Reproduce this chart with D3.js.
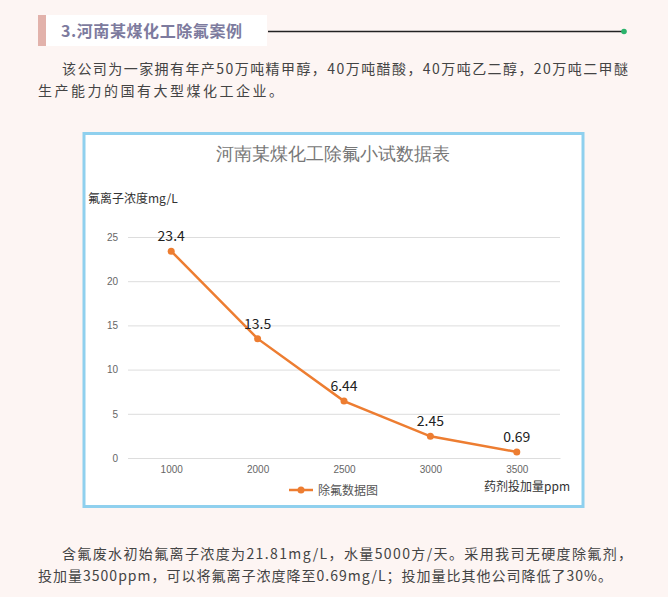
<!DOCTYPE html><html><head><meta charset="utf-8"><script src="https://cdn.jsdelivr.net/npm/d3@7"></script>
<style>body{margin:0;background:#fdf5f3;font-family:"Noto Sans CJK SC",sans-serif;}</style></head><body><svg id="c" width="668" height="597"></svg>
<script>
const categories=["1000","2000","2500","3000","3500"];
const values=[23.4,13.5,6.44,2.45,0.69];
const yTicks=[0,5,10,15,20,25];
const svg=d3.select("#c");
const F='"Noto Sans CJK SC",sans-serif';
svg.append("rect").attr("x",38).attr("y",15).attr("width",8).attr("height",31).attr("fill","#e2b2ab");
svg.append("rect").attr("x",46).attr("y",15).attr("width",221).attr("height",31).attr("fill","#fff");
svg.append("text").attr("x",61).attr("y",37).attr("font-size",16).attr("font-weight","bold").attr("fill","#7d7b9e").attr("font-family",F).attr("textLength",181).text("3.河南某煤化工除氟案例");
svg.append("line").attr("x1",268).attr("x2",623).attr("y1",31.5).attr("y2",31.5).attr("stroke","#222").attr("stroke-width",1.3);
svg.append("circle").attr("cx",624).attr("cy",31.5).attr("r",2.8).attr("fill","#2bb36b");
const para=[[62,74,"该公司为一家拥有年产50万吨精甲醇，40万吨醋酸，40万吨乙二醇，20万吨二甲醚",566],[38,96,"生产能力的国有大型煤化工企业。",245],[62,559,"含氟废水初始氟离子浓度为21.81mg/L，水量5000方/天。采用我司无硬度除氟剂，",570],[38,581,"投加量3500ppm，可以将氟离子浓度降至0.69mg/L；投加量比其他公司降低了30%。",574]];
para.forEach(p=>svg.append("text").attr("x",p[0]).attr("y",p[1]).attr("font-size",14).attr("fill","#444").attr("font-family",F).attr("textLength",p[3]).text(p[2]));
svg.append("rect").attr("x",84).attr("y",133.5).attr("width",499).attr("height",373).attr("fill","#fff").attr("stroke","#8fd0ee").attr("stroke-width",3);
svg.append("text").attr("x",333).attr("y",160).attr("text-anchor","middle").attr("font-size",18).attr("fill","#777").attr("font-family","serif").text("河南某煤化工除氟小试数据表");
const x=d3.scalePoint().domain(categories).range([128,560]).padding(0.5);
const y=d3.scaleLinear().domain([0,25]).range([458,237]);
const ya=svg.append("g").attr("transform","translate(128,0)").call(d3.axisLeft(y).tickValues(yTicks).tickSize(-432).tickPadding(10));
ya.select(".domain").remove();
ya.selectAll("line").attr("stroke","#ddd");
ya.selectAll("text").attr("fill","#666").attr("font-size",10);
const xa=svg.append("g").attr("transform","translate(0,458)").call(d3.axisBottom(x).tickSize(0).tickPadding(8));
xa.select(".domain").attr("stroke","#ddd");
xa.selectAll("text").attr("fill","#666").attr("font-size",10);
svg.append("text").attr("x",88).attr("y",203).attr("font-size",12).attr("fill","#333").attr("font-family",F).text("氟离子浓度mg/L");
svg.append("text").attr("x",484).attr("y",491).attr("font-size",12).attr("fill","#333").attr("font-family",F).text("药剂投加量ppm");
const line=d3.line().x((d,i)=>x(categories[i])).y(d=>y(d));
svg.append("path").attr("d",line(values)).attr("fill","none").attr("stroke","#ed7d31").attr("stroke-width",2.5);
svg.selectAll(".pt").data(values).join("circle").attr("cx",(d,i)=>x(categories[i])).attr("cy",d=>y(d)).attr("r",3.5).attr("fill","#ed7d31");
svg.selectAll(".lb").data(values).join("text").attr("x",(d,i)=>x(categories[i])).attr("y",d=>y(d)-10).attr("text-anchor","middle").attr("font-size",14).attr("fill","#222").attr("font-family",F).text(d=>d);
svg.append("line").attr("x1",289).attr("x2",313).attr("y1",490).attr("y2",490).attr("stroke","#ed7d31").attr("stroke-width",2.5);
svg.append("circle").attr("cx",301).attr("cy",490).attr("r",3.5).attr("fill","#ed7d31");
svg.append("text").attr("x",318).attr("y",495).attr("font-size",12).attr("fill","#555").attr("font-family",F).text("除氟数据图");
</script></body></html>
